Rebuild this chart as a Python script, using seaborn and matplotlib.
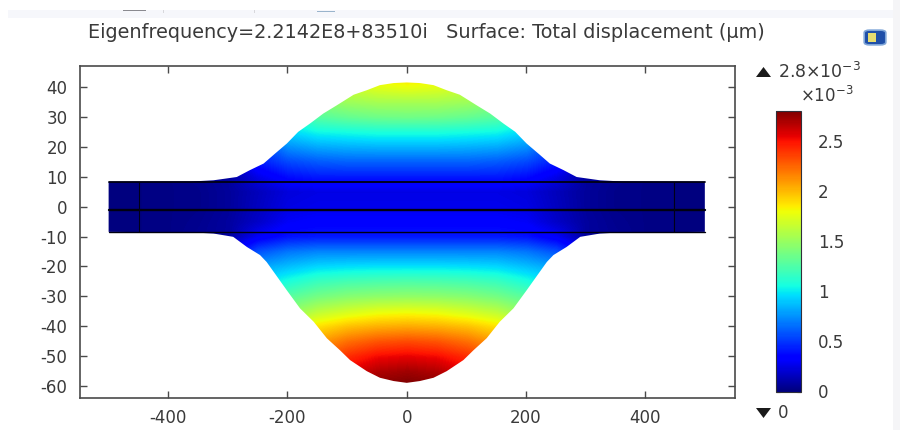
import numpy as np
import matplotlib
matplotlib.use("Agg")
import matplotlib.pyplot as plt
from matplotlib.patches import Polygon, Rectangle, FancyBboxPatch
from matplotlib.cm import ScalarMappable
from matplotlib.colors import Normalize
import seaborn as sns

title = "Eigenfrequency=2.2142E8+83510i   Surface: Total displacement (µm)"
x_ticks = [-400, -200, 0, 200, 400]
y_ticks = [40, 30, 20, 10, 0, -10, -20, -30, -40, -50, -60]
cbar_ticks = [0, 0.5, 1, 1.5, 2, 2.5]
cbar_labels = ["0", "0.5", "1", "1.5", "2", "2.5"]
vmax_disp = 2.803

# half outline of the deformed shape (x >= 0)
upper_x = [0, 22, 45, 67, 89, 117, 140, 162, 182, 201, 221, 240, 263, 285, 324, 361]
upper_y = [41.5, 41.3, 40.6, 38.9, 37.4, 33.9, 31.1, 27.8, 25.0, 21.1, 17.7, 14.4, 12.2, 9.9, 8.8, 8.4]
lower_x = [0, 22, 45, 67, 95, 112, 134, 156, 179, 201, 221, 235, 246, 268, 291, 324, 361]
lower_y = [-58.9, -58.3, -57.2, -55.0, -51.3, -48.0, -44.0, -38.5, -34.0, -28.0, -22.4, -18.5, -16.2,
           -13.5, -10.1, -9.0, -8.6]

beam_x = [-500, 500]
beam_top = 8.25
beam_mid = -1.1
beam_bottom = -8.45
beam_div = 449

# displacement (x 1e-3)
field_x = [0, 50, 100, 150, 200, 250, 300, 350, 400, 450, 500]
field_y = [-60, -55, -50, -45, -40, -35, -30, -25, -20, -15, -10, -5, 0, 5, 10, 15, 20, 25, 30, 35, 40, 45]
field_half = [
    [2.82, 2.80, 2.60, 2.40, 2.10, 1.70, 0.60, 0.10, 0.03, 0.01, 0.00],
    [2.72, 2.68, 2.55, 2.30, 2.00, 1.60, 0.60, 0.10, 0.03, 0.01, 0.00],
    [2.55, 2.52, 2.42, 2.25, 1.95, 1.50, 0.60, 0.10, 0.03, 0.01, 0.00],
    [2.33, 2.30, 2.22, 2.08, 1.90, 1.40, 0.60, 0.10, 0.03, 0.01, 0.00],
    [2.05, 2.03, 1.98, 1.88, 1.70, 1.30, 0.60, 0.10, 0.03, 0.01, 0.00],
    [1.78, 1.76, 1.70, 1.62, 1.45, 1.20, 0.60, 0.10, 0.03, 0.01, 0.00],
    [1.48, 1.47, 1.44, 1.38, 1.28, 1.10, 0.60, 0.10, 0.03, 0.01, 0.00],
    [1.25, 1.24, 1.22, 1.18, 1.08, 0.95, 0.50, 0.10, 0.03, 0.01, 0.00],
    [0.98, 0.98, 0.97, 0.95, 0.88, 0.80, 0.45, 0.10, 0.03, 0.01, 0.00],
    [0.72, 0.72, 0.72, 0.72, 0.68, 0.58, 0.30, 0.08, 0.03, 0.01, 0.00],
    [0.42, 0.42, 0.42, 0.42, 0.40, 0.30, 0.08, 0.05, 0.02, 0.01, 0.00],
    [0.33, 0.33, 0.33, 0.33, 0.30, 0.18, 0.08, 0.04, 0.02, 0.01, 0.00],
    [0.27, 0.27, 0.27, 0.27, 0.25, 0.16, 0.07, 0.03, 0.02, 0.01, 0.00],
    [0.25, 0.25, 0.25, 0.25, 0.23, 0.15, 0.07, 0.03, 0.02, 0.01, 0.00],
    [0.42, 0.42, 0.42, 0.42, 0.38, 0.26, 0.08, 0.04, 0.02, 0.01, 0.00],
    [0.62, 0.62, 0.62, 0.60, 0.55, 0.42, 0.15, 0.05, 0.02, 0.01, 0.00],
    [0.85, 0.85, 0.84, 0.82, 0.75, 0.50, 0.20, 0.05, 0.02, 0.01, 0.00],
    [1.08, 1.08, 1.06, 1.04, 0.95, 0.60, 0.20, 0.05, 0.02, 0.01, 0.00],
    [1.37, 1.36, 1.33, 1.28, 1.10, 0.70, 0.20, 0.05, 0.02, 0.01, 0.00],
    [1.55, 1.55, 1.52, 1.45, 1.20, 0.70, 0.20, 0.05, 0.02, 0.01, 0.00],
    [1.78, 1.75, 1.68, 1.55, 1.20, 0.70, 0.20, 0.05, 0.02, 0.01, 0.00],
    [1.95, 1.90, 1.75, 1.55, 1.20, 0.70, 0.20, 0.05, 0.02, 0.01, 0.00],
]

sns.set_theme(style="white")
plt.rcParams["font.family"] = ["DejaVu Sans"]
plt.rcParams["axes.unicode_minus"] = False
jet = plt.get_cmap("jet")
TXT = "#3a3a3a"
SPINE = "#4a4a4a"
FS = 12

fig = plt.figure(figsize=(9, 4.3), dpi=100, facecolor="white")
W, H = 900.0, 430.0
ax = fig.add_axes([80 / W, 1 - 397.5 / H, 655 / W, 331.5 / H])

half = np.array(field_half)
full = np.hstack([half[:, :0:-1], half])
norm = Normalize(0, vmax_disp)
dx = 25
dy = 2.5
im = ax.imshow(full, origin="lower", cmap=jet, norm=norm, aspect="auto",
               interpolation="bilinear", interpolation_stage="data",
               extent=[-field_x[-1] - dx, field_x[-1] + dx, field_y[0] - dy, field_y[-1] + dy])

# clip to deformed outline
ux = np.array(upper_x, float)
uy = np.array(upper_y, float)
lx = np.array(lower_x, float)
ly = np.array(lower_y, float)
top_x = np.r_[-ux[:0:-1], ux]
top_y = np.r_[uy[:0:-1], uy]
bot_x = np.r_[-lx[:0:-1], lx]
bot_y = np.r_[ly[:0:-1], ly]
outline = np.vstack([
    np.c_[[beam_x[0]], [beam_top]],
    np.c_[top_x, top_y],
    np.c_[[beam_x[1], beam_x[1]], [beam_top, beam_bottom]],
    np.c_[bot_x[::-1], bot_y[::-1]],
    np.c_[[beam_x[0]], [beam_bottom]],
])
clip = Polygon(outline, closed=True, transform=ax.transData, fc="none", ec="none")
ax.add_patch(clip)
im.set_clip_path(clip)

# beam lines
for yy, lw in [(beam_top, 1.3), (beam_mid, 1.7), (beam_bottom, 1.0)]:
    sns.lineplot(x=beam_x, y=[yy, yy], ax=ax, color="#000010", lw=lw, estimator=None, sort=False, legend=False)
for xx in (-beam_div, beam_div):
    sns.lineplot(x=[xx, xx], y=[beam_bottom, beam_top], ax=ax, color="#000018", lw=0.8,
                 estimator=None, sort=False, legend=False)

ax.set_xlim(-548, 550.6)
ax.set_ylim(-63.8, 47.0)
ax.set_xticks(x_ticks)
ax.set_yticks(y_ticks)
ax.tick_params(axis="both", which="both", direction="in", length=5, width=1.0, color=SPINE,
               top=True, right=True, bottom=True, left=True, labelsize=FS, labelcolor=TXT)
ax.tick_params(axis="x", pad=8)
ax.tick_params(axis="y", pad=9)
ax.set_xlabel("")
ax.set_ylabel("")
for s in ax.spines.values():
    s.set_color(SPINE)
    s.set_linewidth(1.2)

fig.text(426.5 / W, 1 - 33 / H, title, ha="center", va="center", fontsize=13.9, color=TXT)

# colour bar
cax = fig.add_axes([776 / W, 1 - 391.5 / H, 25 / W, 281 / H])
cb = fig.colorbar(ScalarMappable(norm=norm, cmap=jet), cax=cax)
cb.set_ticks(cbar_ticks)
cb.set_ticklabels(cbar_labels)
cax.tick_params(axis="y", direction="in", length=3, width=0.8, color="#40000a", left=True, right=True,
                labelsize=FS, labelcolor=TXT, pad=12)
cb.outline.set_edgecolor("#30303a")
cb.outline.set_linewidth(0.8)

fig.text(778 / W, 1 - 72 / H, "2.8×10$^{-3}$", ha="left", va="center", fontsize=FS + 0.5, color=TXT)
fig.text(800 / W, 1 - 96 / H, "×10$^{-3}$", ha="left", va="center", fontsize=FS, color=TXT)
fig.text(778 / W, 1 - 413 / H, "0", ha="left", va="center", fontsize=FS, color=TXT)
fig.add_artist(Polygon([[756 / W, 1 - 77 / H], [771 / W, 1 - 77 / H], [763.5 / W, 1 - 67 / H]],
                       closed=True, fc="#1a1a1a", ec="none", transform=fig.transFigure))
fig.add_artist(Polygon([[756 / W, 1 - 408 / H], [771 / W, 1 - 408 / H], [763.5 / W, 1 - 418 / H]],
                       closed=True, fc="#1a1a1a", ec="none", transform=fig.transFigure))

# window remnants: pale toolbar band, fragments, right strip and the camera icon
fig.add_artist(Rectangle((8 / W, 1 - 18 / H), (W - 8) / W, 8 / H, fc="#f6f7fb", ec="none",
                         transform=fig.transFigure, zorder=-1))
fig.add_artist(Rectangle((893 / W, 0), 7 / W, 1, fc="#f5f5f7", ec="none", transform=fig.transFigure, zorder=-1))
fig.add_artist(Rectangle((123 / W, 1 - 11 / H), 23 / W, 1.5 / H, fc="#8a8a90", ec="none", transform=fig.transFigure))
fig.add_artist(Rectangle((163 / W, 1 - 13 / H), 1 / W, 3 / H, fc="#d8d8dc", ec="none", transform=fig.transFigure))
fig.add_artist(Rectangle((254 / W, 1 - 13 / H), 1 / W, 3 / H, fc="#d8d8dc", ec="none", transform=fig.transFigure))
fig.add_artist(Rectangle((317 / W, 1 - 12 / H), 18 / W, 1.2 / H, fc="#9ab4cc", ec="none", transform=fig.transFigure))
fig.add_artist(FancyBboxPatch((866 / W, 1 - 44 / H), 18 / W, 13 / H,
                              boxstyle="round,pad=0.002,rounding_size=0.006", fc="#1f4fa8", ec="#7fa6d8",
                              lw=1.2, transform=fig.transFigure))
fig.add_artist(Rectangle((868 / W, 1 - 42 / H), 8 / W, 9 / H, fc="#e6dc70", ec="none", transform=fig.transFigure))

fig.savefig("out.png", dpi=100)
